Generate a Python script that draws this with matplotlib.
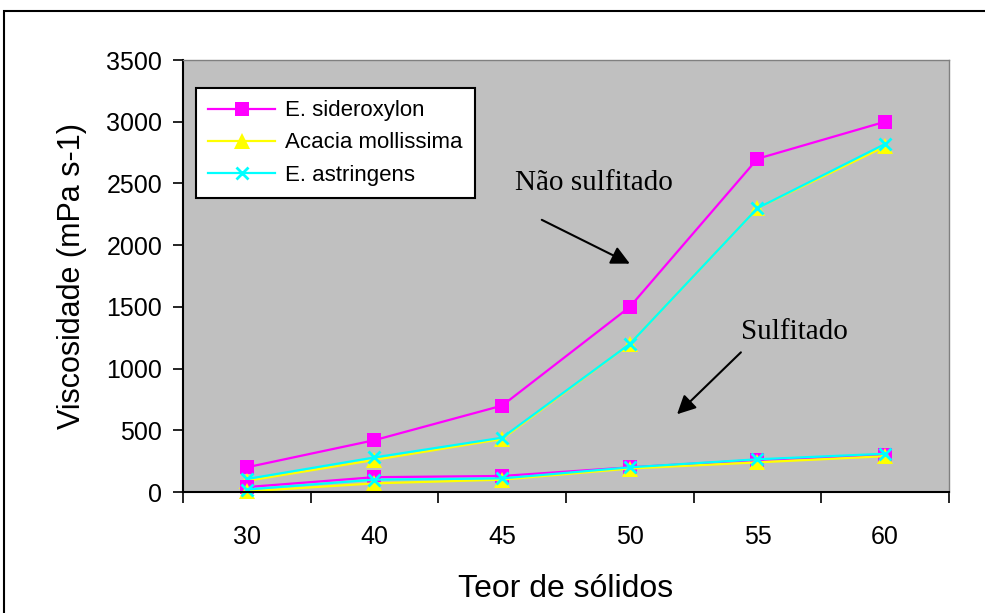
import numpy as np
import matplotlib.pyplot as plt
from matplotlib.patches import Rectangle
from matplotlib.lines import Line2D

plt.rcParams['font.family'] = ['Liberation Sans', 'DejaVu Sans']

teor = ['30', '40', '45', '50', '55', '60']

# não sulfitado
sidero_ns = [200, 420, 700, 1500, 2700, 3000]
acacia_ns = [90, 260, 430, 1200, 2300, 2800]
astrin_ns = [105, 280, 440, 1200, 2300, 2820]

# sulfitado
sidero_s = [40, 120, 130, 200, 260, 300]
acacia_s = [5, 70, 100, 190, 240, 290]
astrin_s = [20, 100, 110, 200, 265, 310]

nomes = ['E. sideroxylon', 'Acacia mollissima', 'E. astringens']
cores = ['#FF00FF', '#FFFF00', '#00FFFF']
estilos = [dict(marker='s', markersize=10.5, markeredgewidth=0),
           dict(marker='^', markersize=11, markeredgewidth=0),
           dict(marker='x', markersize=9, markeredgewidth=2)]

fig = plt.figure(figsize=(9.85, 6.13), dpi=100)
fig.patch.set_facecolor('white')

# moldura externa do gráfico
fig.patches.append(Rectangle((4 / 985, -0.05), 1.2, 1 - 11 / 613 + 0.05,
                             transform=fig.transFigure, fill=False,
                             edgecolor='black', linewidth=1.5))

ax = fig.add_axes([183 / 985, 1 - 492 / 613, 766 / 985, 432 / 613])
ax.set_facecolor('#C0C0C0')

x = np.arange(len(teor))
for series in [(sidero_ns, acacia_ns, astrin_ns), (sidero_s, acacia_s, astrin_s)]:
    for y, cor, est in zip(series, cores, estilos):
        ax.plot(x, y, color=cor, linewidth=1.6, markerfacecolor=cor,
                markeredgecolor=cor, clip_on=False, **est)

ax.set_xlim(-0.5, len(teor) - 0.5)
ax.set_ylim(0, 3500)
ax.set_yticks(np.arange(0, 3501, 500))
ax.set_xticks(x)
ax.set_xticklabels(teor)
ax.set_xticks(np.arange(-0.5, len(teor), 1), minor=True)
ax.tick_params(axis='x', which='major', length=0, pad=24, labelsize=18)
ax.tick_params(axis='x', which='minor', length=8, width=1.2, direction='out')
ax.tick_params(axis='y', length=7, width=1.2, direction='out', pad=8, labelsize=18)

for s in ['top', 'right']:
    ax.spines[s].set_color('#808080')
    ax.spines[s].set_linewidth(1)
for s in ['left', 'bottom']:
    ax.spines[s].set_color('black')
    ax.spines[s].set_linewidth(1.5)

ax.set_xlabel('Teor de sólidos', fontsize=23, labelpad=18)
ax.set_ylabel('Viscosidade (mPa s-1)', fontsize=22, labelpad=14)

handles = [Line2D([], [], color=c, linewidth=1.6, markerfacecolor=c,
                  markeredgecolor=c, **e) for c, e in zip(cores, estilos)]
leg = ax.legend(handles, nomes, loc='upper left', bbox_to_anchor=(0.017, 0.935),
                borderaxespad=0, fontsize=16, frameon=True, fancybox=False,
                handlelength=3.0, handletextpad=0.45, labelspacing=0.5,
                borderpad=0.55)
leg.get_frame().set_edgecolor('black')
leg.get_frame().set_linewidth(1.5)
leg.get_frame().set_alpha(1)

# setas de identificação dos grupos
ax.annotate('Não sulfitado', xy=(3.0, 1850), xytext=(2.1, 2500),
            fontsize=21, family=['Liberation Serif', 'DejaVu Serif'],
            ha='left', va='center',
            arrowprops=dict(arrowstyle='-|>', color='black', lw=1.5,
                            mutation_scale=28, shrinkA=0, shrinkB=0,
                            relpos=(0.17, -0.9)))
ax.annotate('Sulfitado', xy=(3.37, 630), xytext=(3.87, 1300),
            fontsize=21, family=['Liberation Serif', 'DejaVu Serif'],
            ha='left', va='center',
            arrowprops=dict(arrowstyle='-|>', color='black', lw=1.5,
                            mutation_scale=28, shrinkA=0, shrinkB=0,
                            relpos=(0.0, -0.3)))

fig.savefig('out.png', dpi=100)
